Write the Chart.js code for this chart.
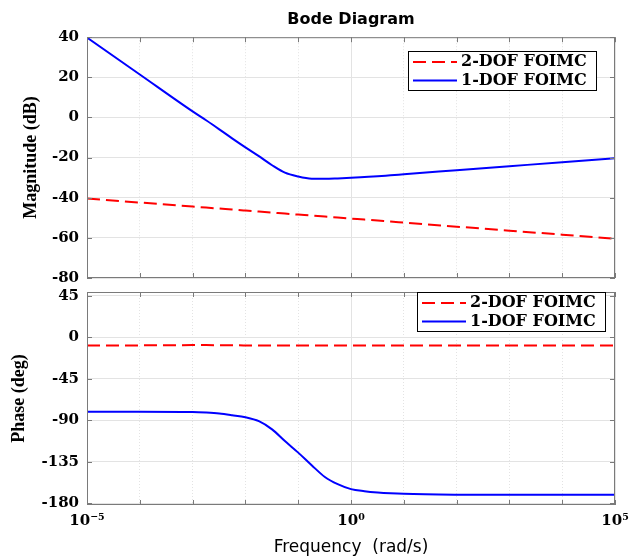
<!DOCTYPE html>
<html>
<head>
<meta charset="utf-8">
<title>Bode Diagram</title>
<script src="https://cdn.jsdelivr.net/npm/chart.js@4.4.0/dist/chart.umd.min.js"></script>
<style>
  body { margin: 0; background: #fff; }
  #wrap { position: relative; width: 629px; height: 559px; }
  #wrap canvas { position: absolute; left: 0; }
</style>
</head>
<body>
<div id="wrap">
  <canvas id="magChart" width="629" height="290" style="top:0"></canvas>
  <canvas id="phaseChart" width="629" height="279" style="top:280px"></canvas>
</div>
<script>
// ---- data ----
const freqs = [1e-5, 1e-4, 1e-3, 1.8e-3, 3.2e-3, 5.6e-3, 1e-2, 1.8e-2, 3.2e-2, 5.6e-2,
               0.1, 0.18, 0.32, 0.56, 1, 1.8, 3.2, 5.6, 10, 100, 1e3, 1e4, 1e5];

const seriesLabels = ['2-DOF FOIMC', '1-DOF FOIMC'];

const magDof2 = [-40.4, -42.4, -44.4, -44.9, -45.4, -45.9, -46.4, -46.9, -47.4, -47.9,
                 -48.4, -48.9, -49.4, -49.9, -50.4, -50.9, -51.4, -51.9, -52.4, -54.4, -56.4, -58.4, -60.4];
const magDof1 = [39.8, 21.4, 3.0, -1.4, -5.9, -10.4, -14.9, -19.3, -23.8, -27.5,
                 -29.4, -30.5, -30.6, -30.4, -30.1, -29.7, -29.3, -28.8, -28.3, -26.3, -24.3, -22.3, -20.3];

const phaseDof2 = [-9.1, -8.9, -8.6, -8.6, -8.7, -8.8, -8.9, -9.0, -9.0, -9.0,
                   -9.0, -9.0, -9.0, -9.0, -9.1, -9.1, -9.1, -9.1, -9.1, -9.1, -9.1, -9.1, -9.1];
const phaseDof1 = [-80.9, -80.9, -81.2, -81.8, -82.8, -84.6, -86.8, -91.1, -100.0, -112.7,
                   -125.2, -138.9, -151.6, -159.4, -164.8, -167.0, -168.4, -169.3, -169.9, -170.8, -171.0, -171.0, -171.0];

const freqTicks = [1e-5, 1e-4, 1e-3, 1e-2, 1e-1, 1, 10, 100, 1e3, 1e4, 1e5];
const freqTickLabels = ['10⁻⁵', '', '', '', '', '10⁰', '', '', '', '', '10⁵'];
const magTicks = [40, 20, 0, -20, -40, -60, -80];
const phaseTicks = [45, 0, -45, -90, -135, -180];

// ---- styling ----
const SERIF = "'DejaVu Serif', serif";
const GRID = '#e3e3e3';
const FRAME = '#7a7a7a';

function pts(values) {
  return freqs.map((f, i) => ({ x: f, y: values[i] }));
}

function makeDatasets(d2, d1) {
  return [
    {
      label: seriesLabels[0],
      data: pts(d2),
      borderColor: '#ff0000',
      borderWidth: 2,
      borderDash: [13, 6],
      pointRadius: 0,
      cubicInterpolationMode: 'monotone',
      fill: false
    },
    {
      label: seriesLabels[1],
      data: pts(d1),
      borderColor: '#0000ff',
      borderWidth: 2,
      pointRadius: 0,
      cubicInterpolationMode: 'monotone',
      fill: false
    }
  ];
}

function xScale(withLabels) {
  return {
    type: 'logarithmic',
    min: 1e-5,
    max: 1e5,
    afterBuildTicks: (s) => { s.ticks = freqTicks.map(v => ({ value: v })); },
    afterFit: (s) => {
      s.paddingLeft = 0;
      s.paddingRight = 0;
      if (withLabels) s.height = 54;
    },
    grid: { color: GRID, lineWidth: 1, drawTicks: false },
    border: { display: false, dash: (ctx) => freqTickLabels[ctx.index] ? [] : [1, 2] },
    ticks: {
      display: withLabels,
      padding: 7,
      maxRotation: 0,
      autoSkip: false,
      color: '#000',
      font: { family: SERIF, size: 15, weight: 'bold' },
      callback: (v, i) => freqTickLabels[i]
    },
    title: {
      display: withLabels,
      text: 'Frequency  (rad/s)',
      color: '#000',
      font: { family: "'DejaVu Sans', sans-serif", size: 17 },
      padding: { top: 7, bottom: 1 }
    }
  };
}

function yScale(min, max, tickValues, title, titlePad) {
  return {
    min: min,
    max: max,
    afterBuildTicks: (s) => { s.ticks = tickValues.map(v => ({ value: v })); },
    afterFit: (s) => { s.width = 87; s.paddingTop = 0; s.paddingBottom = 0; },
    grid: { color: GRID, drawTicks: false },
    border: { display: false },
    ticks: {
      padding: 8,
      color: '#000',
      font: { family: SERIF, size: 15, weight: 'bold' }
    },
    title: {
      display: true,
      text: title,
      color: '#000',
      font: { family: "'Liberation Serif', serif", size: 18, weight: 'bold' },
      padding: { top: titlePad, bottom: 0 }
    }
  };
}

// box around the plot area with inward tick marks
const framePlugin = {
  id: 'frame',
  afterDraw(chart) {
    const { ctx, chartArea: a, scales } = chart;
    ctx.save();
    ctx.strokeStyle = FRAME;
    ctx.lineWidth = 1;
    ctx.strokeRect(a.left + 0.5, a.top + 0.5, a.width - 1, a.height - 1);
    ctx.beginPath();
    scales.x.ticks.forEach(t => {
      const px = Math.round(scales.x.getPixelForValue(t.value)) + 0.5;
      ctx.moveTo(px, a.bottom); ctx.lineTo(px, a.bottom - 5);
      ctx.moveTo(px, a.top); ctx.lineTo(px, a.top + 5);
    });
    scales.y.ticks.forEach(t => {
      const py = Math.round(scales.y.getPixelForValue(t.value)) + 0.5;
      ctx.moveTo(a.left, py); ctx.lineTo(a.left + 5, py);
      ctx.moveTo(a.right, py); ctx.lineTo(a.right - 5, py);
    });
    ctx.stroke();
    ctx.restore();
  }
};

// MATLAB-style legend box in the upper right of the axes
const boxLegendPlugin = {
  id: 'boxLegend',
  afterDraw(chart, args, opts) {
    const { ctx, chartArea: a } = chart;
    const w = 188, h = 39;
    const x = Math.round(a.right - opts.right - w);
    const y = Math.round(a.top + opts.top);
    ctx.save();
    ctx.fillStyle = '#fff';
    ctx.fillRect(x, y, w, h);
    ctx.strokeStyle = '#000';
    ctx.lineWidth = 1;
    ctx.strokeRect(x + 0.5, y + 0.5, w, h);
    chart.data.datasets.forEach((ds, i) => {
      const ly = y + 11 + i * 18.5;
      ctx.strokeStyle = ds.borderColor;
      ctx.lineWidth = 2;
      ctx.setLineDash(ds.borderDash || []);
      ctx.beginPath();
      ctx.moveTo(x + 5, ly);
      ctx.lineTo(x + 49, ly);
      ctx.stroke();
      ctx.setLineDash([]);
      ctx.fillStyle = '#000';
      ctx.font = "bold 16px 'DejaVu Serif'";
      ctx.textBaseline = 'middle';
      ctx.fillText(ds.label, x + 53, ly);
    });
    ctx.restore();
  }
};

function createMagChart() {
  const ctx = document.getElementById('magChart');
  new Chart(ctx, {
    type: 'line',
    data: { datasets: makeDatasets(magDof2, magDof1) },
    plugins: [framePlugin, boxLegendPlugin],
    options: {
      responsive: false,
      animation: false,
      devicePixelRatio: 1,
      layout: { padding: { left: 0, right: 14, top: 0, bottom: 12 } },
      plugins: {
        legend: { display: false },
        tooltip: { enabled: false },
        title: {
          display: true,
          text: 'Bode Diagram',
          fullSize: false,
          color: '#000',
          font: { family: "'DejaVu Sans', sans-serif", size: 16, weight: 'bold' },
          padding: { top: 10, bottom: 8 }
        },
        boxLegend: { right: 19, top: 14 }
      },
      scales: {
        x: xScale(false),
        y: yScale(-80, 40, magTicks, 'Magnitude (dB)', 21)
      }
    }
  });
}

function createPhaseChart() {
  const ctx = document.getElementById('phaseChart');
  new Chart(ctx, {
    type: 'line',
    data: { datasets: makeDatasets(phaseDof2, phaseDof1) },
    plugins: [framePlugin, boxLegendPlugin],
    options: {
      responsive: false,
      animation: false,
      devicePixelRatio: 1,
      layout: { padding: { left: 0, right: 14, top: 12, bottom: 0 } },
      plugins: {
        legend: { display: false },
        tooltip: { enabled: false },
        boxLegend: { right: 10, top: 0 }
      },
      scales: {
        x: xScale(true),
        y: yScale(-182, 49, phaseTicks, 'Phase (deg)', 9)
      }
    }
  });
}

createMagChart();
createPhaseChart();
</script>
</body>
</html>
